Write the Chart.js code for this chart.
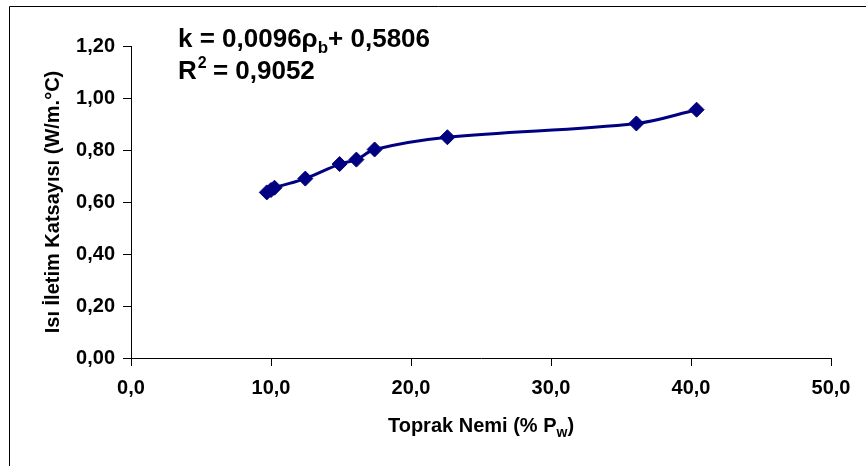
<!DOCTYPE html>
<html>
<head>
<meta charset="utf-8">
<script src="https://cdn.jsdelivr.net/npm/chart.js@4.4.0/dist/chart.umd.min.js"></script>
<style>
  html, body { margin: 0; padding: 0; background: #fff; }
  #wrap { width: 866px; height: 466px; }
</style>
</head>
<body>
<div id="wrap"><canvas id="myChart" width="866" height="466"></canvas></div>
<script>
// Toprak nemi (% Pw) ve ısı iletim katsayısı (W/m.°C)
const moisture = [9.7, 10.0, 10.25, 12.45, 14.9, 16.1, 17.4, 22.6, 36.1, 40.4];
const conductivity = [0.637, 0.646, 0.655, 0.690, 0.746, 0.763, 0.802, 0.849, 0.902, 0.955];

const xRange = [0, 50, 10];
const yRange = [0, 1.2, 0.2];
const yTitle = "Isı İletim Katsayısı (W/m.°C)";
const xTitle = ["Toprak Nemi (% P", "w", ")"];
const eqLine1 = ["k = 0,0096ρ", "b", "+ 0,5806"];
const eqLine2 = ["R", "2", " = 0,9052"];

const FONT = '"Liberation Sans", Arial, sans-serif';
const NAVY = "#000080";

const points = moisture.map((x, i) => ({ x: x, y: conductivity[i] }));

// ekstra çizimler: dış çerçeve, denklem, x ekseni başlığı (alt indisli)
const extras = {
  id: "extras",
  beforeDraw(chart) {
    const ctx = chart.ctx;
    ctx.save();
    ctx.fillStyle = "#fff";
    ctx.fillRect(0, 0, chart.width, chart.height);
    ctx.restore();
  },
  afterDraw(chart) {
    const ctx = chart.ctx;
    const area = chart.chartArea;
    ctx.save();

    // çerçeve
    ctx.strokeStyle = "#000";
    ctx.lineWidth = 1;
    ctx.beginPath();
    ctx.moveTo(9.5, chart.height + 2);
    ctx.lineTo(9.5, 6.5);
    ctx.lineTo(chart.width + 2, 6.5);
    ctx.stroke();

    ctx.fillStyle = "#000";
    ctx.textBaseline = "alphabetic";
    ctx.textAlign = "left";

    // denklem
    let x = area.left + 47;
    let y = area.top + 1;
    ctx.font = "bold 26px " + FONT;
    ctx.fillText(eqLine1[0], x, y);
    x += ctx.measureText(eqLine1[0]).width;
    ctx.font = "bold 17px " + FONT;
    ctx.fillText(eqLine1[1], x, y + 6);
    x += ctx.measureText(eqLine1[1]).width;
    ctx.font = "bold 26px " + FONT;
    ctx.fillText(eqLine1[2], x, y);

    x = area.left + 47;
    y = area.top + 33;
    ctx.fillText(eqLine2[0], x, y);
    x += ctx.measureText(eqLine2[0]).width;
    ctx.font = "bold 16px " + FONT;
    ctx.fillText(eqLine2[1], x + 1, y - 11);
    x += ctx.measureText(eqLine2[1]).width;
    ctx.font = "bold 26px " + FONT;
    ctx.fillText(eqLine2[2], x, y);

    // x ekseni başlığı
    ctx.font = "bold 20px " + FONT;
    const w0 = ctx.measureText(xTitle[0]).width;
    const w2 = ctx.measureText(xTitle[2]).width;
    ctx.font = "bold 14px " + FONT;
    const w1 = ctx.measureText(xTitle[1]).width;
    let tx = (area.left + area.right) / 2 - (w0 + w1 + w2) / 2;
    const ty = 432;
    ctx.font = "bold 20px " + FONT;
    ctx.fillText(xTitle[0], tx, ty);
    tx += w0;
    ctx.font = "bold 14px " + FONT;
    ctx.fillText(xTitle[1], tx, ty + 5);
    tx += w1;
    ctx.font = "bold 20px " + FONT;
    ctx.fillText(xTitle[2], tx, ty);

    ctx.restore();
  },
};

const data = {
  datasets: [
    {
      label: "k",
      data: points,
      borderColor: NAVY,
      backgroundColor: NAVY,
      borderWidth: 3,
      tension: 0.35,
      pointStyle: "rectRot",
      pointRadius: 7.5,
      pointHoverRadius: 7.5,
      pointBorderWidth: 1,
      pointBorderColor: NAVY,
      pointBackgroundColor: NAVY,
    },
  ],
};

const config = {
  type: "line",
  data: data,
  plugins: [extras],
  options: {
    responsive: false,
    animation: false,
    events: [],
    layout: { padding: { left: 0, right: 35, top: 46, bottom: 0 } },
    plugins: {
      legend: { display: false },
      tooltip: { enabled: false },
    },
    scales: {
      x: {
        type: "linear",
        min: xRange[0],
        max: xRange[1],
        afterFit: (scale) => { scale.height = 108; },
        ticks: {
          stepSize: xRange[2],
          color: "#000",
          padding: 10,
          maxRotation: 0,
          font: { family: FONT, size: 20, weight: "bold" },
          callback: (v) => v.toFixed(1).replace(".", ","),
        },
        grid: { drawOnChartArea: false, drawTicks: true, tickLength: 8, color: "#000" },
        border: { display: true, color: "#000", width: 1 },
      },
      y: {
        min: yRange[0],
        max: yRange[1],
        afterFit: (scale) => { scale.width = 131; },
        ticks: {
          stepSize: yRange[2],
          color: "#000",
          padding: 8,
          font: { family: FONT, size: 20, weight: "bold" },
          callback: (v) => v.toFixed(2).replace(".", ","),
        },
        grid: { drawOnChartArea: false, drawTicks: true, tickLength: 8, color: "#000" },
        border: { display: true, color: "#000", width: 1 },
        title: {
          display: true,
          text: yTitle,
          color: "#000",
          padding: { top: 41, bottom: 0 },
          font: { family: FONT, size: 20, weight: "bold" },
        },
      },
    },
  },
};

const ctx = document.getElementById("myChart").getContext("2d");
new Chart(ctx, config);
</script>
</body>
</html>
